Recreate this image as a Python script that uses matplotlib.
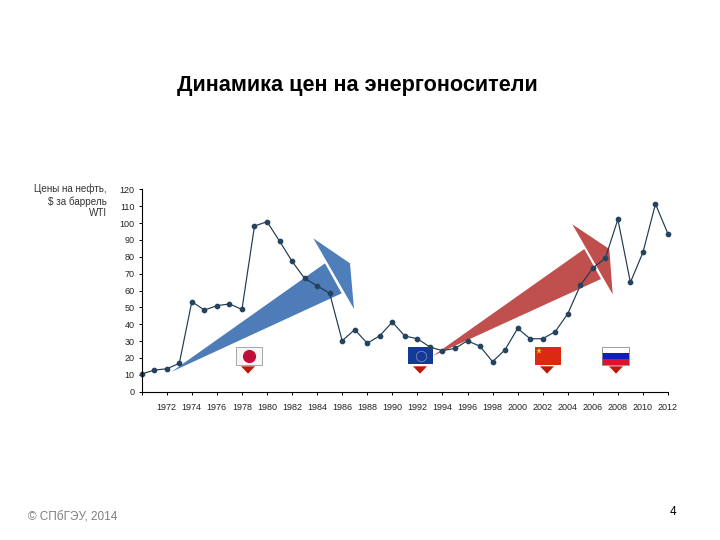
import numpy as np
import matplotlib
matplotlib.use("Agg")
import matplotlib.pyplot as plt
from matplotlib.patches import Polygon, Rectangle

plt.rcParams['font.family'] = ['Liberation Sans', 'DejaVu Sans']

years = list(range(1970, 2013))
prices = [10.5, 12.8, 13.6, 16.8, 53.4, 48.4, 51, 52, 48.8, 98.2, 100.8, 89.3, 77.3, 67.2,
          62.8, 58.3, 30.2, 36.8, 28.7, 33.2, 41.3, 33, 31.4, 26.5, 24.3, 25.7, 30.2, 26.9,
          17.8, 24.9, 37.5, 31.4, 31.4, 35.6, 46.2, 63, 73.3, 79.2, 102.2, 64.8, 82.6, 111.3, 93.5]
x_ticks = list(range(1970, 2013, 2))
x_labels = [''] + [str(y) for y in x_ticks[1:]]
y_ticks = list(range(0, 121, 10))
title = "Динамика цен на энергоносители"
y_caption = "Цены на нефть,\n$ за баррель\nWTI"
footer = "© СПбГЭУ, 2014"
page = "4"

W, H = 720, 540
fig = plt.figure(figsize=(7.2, 5.4), dpi=100, facecolor='white')
L, R, T, B = 141.7, 668, 189.3, 391.7
ax = fig.add_axes([L/W, 1-B/H, (R-L)/W, (B-T)/H], facecolor='none', zorder=3)

def px(points):
    return [(x/W, 1-y/H) for x, y in points]

def shape(points, color, z=1):
    fig.add_artist(Polygon(px(points), closed=True, transform=fig.transFigure,
                           facecolor=color, edgecolor='none', zorder=z))

def rect(x0, y0, x1, y1, color, edge='none', z=2):
    fig.add_artist(Rectangle((x0/W, 1-y1/H), (x1-x0)/W, (y1-y0)/H, transform=fig.transFigure,
                             facecolor=color, edgecolor=edge, linewidth=0.6, zorder=z))

# arrows
shape([(171.7, 371.7), (325, 263.3), (341.7, 293.3)], '#4d7cb8')
shape([(313.3, 238.3), (350, 263.3), (354, 309)], '#4f7fbb')
shape([(432.7, 356), (584.3, 249), (601, 279)], '#c0504d')
shape([(572.3, 224.3), (609.3, 249), (612.7, 294.3)], '#bf4f4c')

# flags
rect(235.7, 346.8, 261.7, 364.8, '#f6f6f6', edge='#999999')
fig.add_artist(plt.Line2D([249/W], [1-355.5/H], marker='o', ms=9.5, color='#c00d3a', mew=0,
                          transform=fig.transFigure, zorder=2.5))
rect(408, 347, 432.7, 364, '#123a96')
fig.add_artist(plt.Line2D([420.5/W], [1-355.5/H], marker='o', ms=7.5, mfc='none', mec='#7f86b0',
                          mew=0.6, ls='none', transform=fig.transFigure, zorder=2.5))
rect(535, 347, 561, 364.5, '#db2a10')
fig.add_artist(plt.Line2D([539/W], [1-351/H], marker='*', ms=5, color='#f4c430', mew=0,
                          transform=fig.transFigure, zorder=2.5))
rect(602, 346.5, 628.7, 352.5, '#ffffff')
rect(602, 352.5, 628.7, 358.5, '#0a1fc0')
rect(602, 358.5, 628.7, 364.8, '#d9142b')
rect(602, 346.5, 628.7, 364.8, 'none', edge='#888888')
for a in (241, 413, 540, 609):
    shape([(a, 366.3), (a+14, 366.3), (a+7, 373.7)], '#bb1a0a', z=2)

ax.plot(years, prices, color='#1f3a52', lw=0.85, marker='o', ms=3.1, mfc='#24435f', mec='#24435f', clip_on=False)
ax.set_xlim(1970, 2012)
ax.set_ylim(0, 120)
ax.set_xticks(x_ticks)
ax.set_xticklabels(x_labels, fontsize=6.5, color='#222222')
ax.set_yticks(y_ticks)
ax.tick_params(axis='y', labelsize=6.5, length=2, width=0.7, pad=3, labelcolor='#222222')
ax.tick_params(axis='x', length=2, width=0.7, pad=6.2)
for s in ('top', 'right'):
    ax.spines[s].set_visible(False)
for s in ('left', 'bottom'):
    ax.spines[s].set_linewidth(0.8)

fig.text(357/W, 1-85.5/H, title, ha='center', va='center', fontsize=15.6, fontweight='bold', color='black')
fig.text(107/W, 1-201/H, y_caption, ha='right', va='center', fontsize=7.1, color='#333333', linespacing=1.2)
fig.text(28/W, 1-517.5/H, footer, ha='left', va='center', fontsize=8.5, color='#7f7f7f')
fig.text(673/W, 1-512/H, page, ha='center', va='center', fontsize=8.5, color='black')

fig.savefig('out.png', dpi=100)
